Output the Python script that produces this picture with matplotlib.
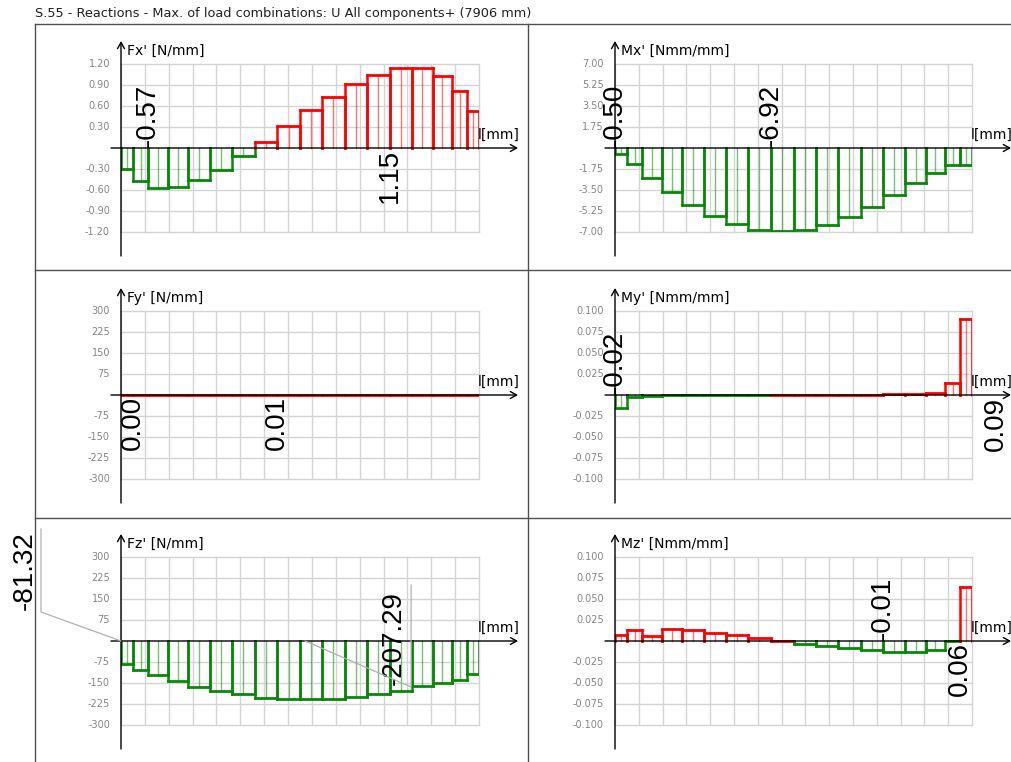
import matplotlib
matplotlib.use("Agg")
import matplotlib.pyplot as plt
from matplotlib.lines import Line2D

# ---------------- data ----------------
TITLE = "S.55 - Reactions - Max. of load combinations: U All components+ (7906 mm)"
L = 7906.0
edges = [0, 273, 600, 1040, 1485, 1965, 2455, 2950, 3445, 3955, 4445,
         4940, 5440, 5930, 6430, 6880, 7315, 7640, 7906]

fx = [-0.30, -0.47, -0.57, -0.56, -0.46, -0.31, -0.11, 0.09, 0.32, 0.54,
      0.73, 0.91, 1.05, 1.15, 1.14, 1.03, 0.82, 0.53]
mx = [-0.50, -1.31, -2.50, -3.67, -4.78, -5.69, -6.31, -6.81, -6.92, -6.81,
      -6.39, -5.75, -4.94, -3.94, -2.92, -2.08, -1.42, -1.42]
fy = [0.002, 0.0, 0.003, 0.004, 0.005, 0.006, 0.007, 0.008, 0.010, 0.008,
      0.007, 0.006, 0.005, 0.004, 0.003, 0.002, 0.001, 0.001]
my = [-0.0151, -0.0022, -0.0006, -0.0004, -0.0003, -0.0002, -0.0001, -0.00005,
      0.00005, 0.0001, 0.0002, 0.0003, 0.0005, 0.0008, 0.0012, 0.0018, 0.0139, 0.0905]
fz = [-81.32, -104, -122, -143, -163, -179, -191, -203, -207, -207.29,
      -206, -199, -191, -178, -162, -150, -140, -118]
mz = [0.0071, 0.0131, 0.0060, 0.0143, 0.0131, 0.0095, 0.0071, 0.0040, 0.0004,
      -0.0030, -0.0063, -0.0087, -0.0110, -0.0127, -0.0126, -0.0107, -0.0003, 0.0647]

fx_ticks = [1.20, 0.90, 0.60, 0.30, -0.30, -0.60, -0.90, -1.20]
mx_ticks = [7.00, 5.25, 3.50, 1.75, -1.75, -3.50, -5.25, -7.00]
f_ticks = [300, 225, 150, 75, -75, -150, -225, -300]
m_ticks = [0.100, 0.075, 0.050, 0.025, -0.025, -0.050, -0.075, -0.100]

panels = [
    dict(name="Fx' [N/mm]", vals=fx, ticks=fx_ticks, fmt="{:.2f}", labels=[2, 13], dec=2, col=0, row=0),
    dict(name="Mx' [Nmm/mm]", vals=mx, ticks=mx_ticks, fmt="{:.2f}", labels=[0, 8], dec=2, col=1, row=0),
    dict(name="Fy' [N/mm]", vals=fy, ticks=f_ticks, fmt="{:.0f}", labels=[1, 8], dec=2, col=0, row=1),
    dict(name="My' [Nmm/mm]", vals=my, ticks=m_ticks, fmt="{:.3f}", labels=[0, 17], dec=2, col=1, row=1),
    dict(name="Fz' [N/mm]", vals=fz, ticks=f_ticks, fmt="{:.0f}", labels=[0, 9], dec=2, col=0, row=2),
    dict(name="Mz' [Nmm/mm]", vals=mz, ticks=m_ticks, fmt="{:.3f}", labels=[13, 17], dec=2, col=1, row=2),
]

# ---------------- layout (pixels) ----------------
W, H = 1011, 762
fig = plt.figure(figsize=(W / 100, H / 100), dpi=100)
fig.patch.set_facecolor("white")

col_x = [(121, 479), (615, 972)]
row_y = [(64, 232), (311, 479), (557, 725)]

RED = "#ff0000"
GREEN = "#0a870a"
GRID = "#d4d4d4"
TICKC = "#858585"

def fig_line(x0, y0, x1, y1, color="#505050", lw=1.0):
    fig.add_artist(Line2D([x0 / W, x1 / W], [1 - y0 / H, 1 - y1 / H],
                          color=color, lw=lw, transform=fig.transFigure))

# frame
fig_line(35, 24, 1011, 24)
fig_line(35, 24, 35, 762)
fig_line(528, 24, 528, 762)
fig_line(35, 270, 1011, 270)
fig_line(35, 518, 1011, 518)

fig.text(35 / W, 1 - 13 / H, TITLE, fontsize=9.25, family="DejaVu Sans",
         va="center", ha="left", color="#202020")

special = {
    ("Fz' [N/mm]", 0): dict(dx=-96, dy=31, va="bottom",
                            leader=[(0, 0), (-80, 29), (-80, 112)]),
    ("Fz' [N/mm]", 9): dict(dx=94, dy=-44, va="bottom",
                            leader=[(5, 0), (111, -46), (111, 56)]),
    ("My' [Nmm/mm]", 17): dict(dx=36, dy=-2, va="top", leader=None),
}

for p in panels:
    x0, x1 = col_x[p["col"]]
    yt, yb = row_y[p["row"]]
    wpx, hpx = x1 - x0, yb - yt
    ax = fig.add_axes([x0 / W, 1 - yb / H, wpx / W, hpx / H])
    ymax = max(abs(t) for t in p["ticks"])
    ax.set_xlim(0, L)
    ax.set_ylim(-ymax, ymax)
    ax.set_axis_off()

    ngrid = 15
    for k in range(ngrid + 1):
        gx = L * k / ngrid
        ax.plot([gx, gx], [-ymax, ymax], color=GRID, lw=1.0, zorder=1, clip_on=False)
    for t in p["ticks"]:
        ax.plot([0, L], [t, t], color=GRID, lw=1.0, zorder=1, clip_on=False)
        ax.annotate(p["fmt"].format(t), xy=(0, t), xytext=(-11, 0),
                    textcoords="offset pixels", ha="right", va="center",
                    fontsize=7, color=TICKC, family="DejaVu Sans",
                    annotation_clip=False)

    vals = p["vals"]
    for i, v in enumerate(vals):
        a, b = edges[i], edges[i + 1]
        c = RED if v >= 0 else GREEN
        ax.plot([a, b], [v, v], color=c, lw=2.0, zorder=4, solid_capstyle="projecting")
        ax.plot([a, a], [0, v], color=c, lw=1.8, zorder=4)
        ax.plot([b, b], [0, v], color=c, lw=1.8, zorder=4)
        m = (a + b) / 2
        ax.plot([m, m], [0, v], color=c, lw=1.0, alpha=0.55, zorder=3)

    ax.annotate("", xy=(0, 1 + 23 / hpx), xytext=(0, -24 / hpx),
                xycoords="axes fraction", textcoords="axes fraction",
                arrowprops=dict(arrowstyle="->,head_length=0.45,head_width=0.25",
                                lw=1.0, color="black", shrinkA=0, shrinkB=0,
                                mutation_scale=10), zorder=5, annotation_clip=False)
    ax.annotate("", xy=(1 + 39 / wpx, 0.5), xytext=(-10 / wpx, 0.5),
                xycoords="axes fraction", textcoords="axes fraction",
                arrowprops=dict(arrowstyle="->,head_length=0.45,head_width=0.25",
                                lw=1.0, color="black", shrinkA=0, shrinkB=0,
                                mutation_scale=10), zorder=5, annotation_clip=False)

    ax.text(6 / wpx, 1 + 13 / hpx, p["name"], transform=ax.transAxes,
            fontsize=10, family="DejaVu Sans", va="center", ha="left")
    ax.text(1.0 - 1 / wpx, 0.5 + 13 / hpx, "l[mm]", transform=ax.transAxes,
            fontsize=10, family="DejaVu Sans", va="center", ha="left")

    for idx in p["labels"]:
        v = vals[idx]
        xs = edges[idx]
        txt = "{:.{d}f}".format(v, d=p["dec"])
        key = (p["name"], idx)
        if key in special:
            s = special[key]
            ax.annotate(txt, xy=(xs, 0), xytext=(s["dx"], s["dy"]),
                        textcoords="offset pixels", rotation=90, ha="center",
                        va=s["va"], fontsize=20, family="Liberation Sans",
                        annotation_clip=False, zorder=6)
            if s["leader"]:
                xs_l, ys_l = [], []
                base = ax.transData.transform((xs, 0))
                inv = fig.transFigure.inverted()
                for (ox, oy) in s["leader"]:
                    fxp, fyp = inv.transform((base[0] + ox, base[1] + oy))
                    xs_l.append(fxp)
                    ys_l.append(fyp)
                fig.add_artist(Line2D(xs_l, ys_l, color="#b0b0b0", lw=0.9,
                                      transform=fig.transFigure, zorder=6))
        else:
            va = "bottom" if v < 0 else "top"
            dy = 1 if v < 0 else -1
            ax.annotate(txt, xy=(xs, 0), xytext=(0, dy),
                        textcoords="offset pixels", rotation=90, ha="center",
                        va=va, fontsize=20, family="Liberation Sans",
                        annotation_clip=False, zorder=6)

fig.savefig("out.png", dpi=100, facecolor="white")
